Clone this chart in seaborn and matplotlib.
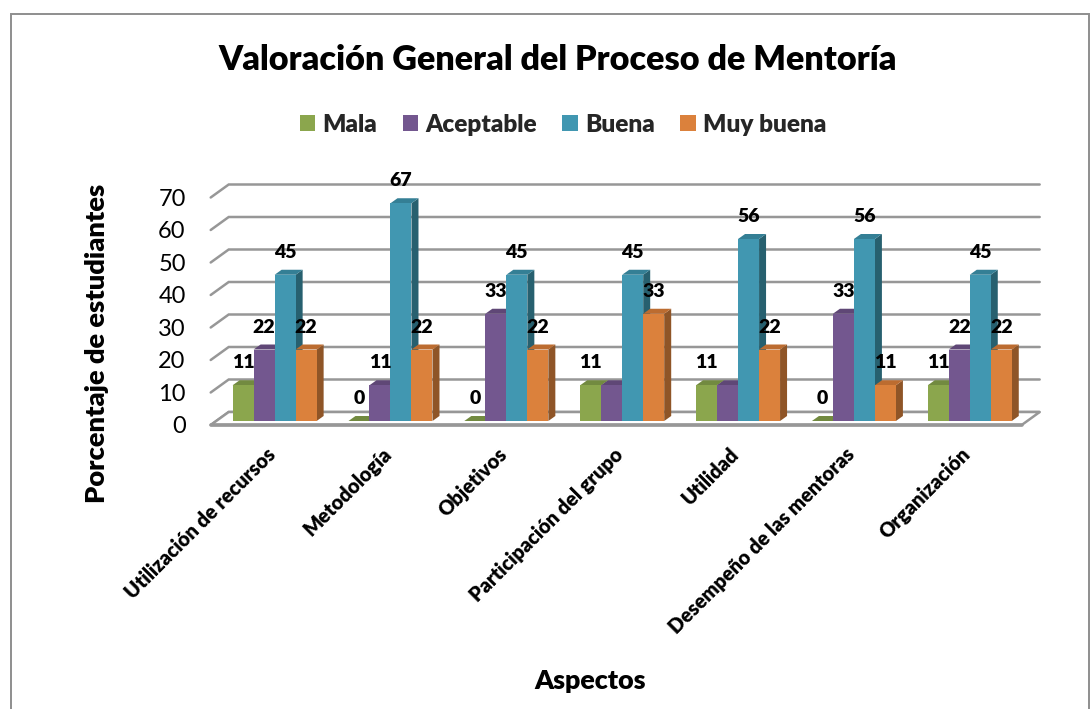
import numpy as np
import pandas as pd
import matplotlib
matplotlib.use("Agg")
import matplotlib.pyplot as plt
from matplotlib.patches import Polygon, Rectangle
from matplotlib.transforms import ScaledTranslation
import seaborn as sns

aspectos = ["Utilización de recursos", "Metodología", "Objetivos", "Participación del grupo",
            "Utilidad", "Desempeño de las mentoras", "Organización"]
mala = [11, 0, 0, 11, 11, 0, 11]
aceptable = [22, 11, 33, 11, 11, 33, 22]
buena = [45, 67, 45, 45, 56, 56, 45]
muy_buena = [22, 22, 22, 33, 22, 11, 22]
y_ticks = [0, 10, 20, 30, 40, 50, 60, 70]

# the purple 11 of two groups has no printed label in the chart
mala_labels = ["11", "0", "0", "11", "11", "0", "11"]
aceptable_labels = ["22", "11", "33", "", "", "33", "22"]
buena_labels = ["45", "67", "45", "45", "56", "56", "45"]
muy_buena_labels = ["22", "22", "22", "33", "22", "11", "22"]

series = ["Mala", "Aceptable", "Buena", "Muy buena"]
colors = ["#8BA64D", "#73578F", "#4197B1", "#DB813C"]
side_colors = ["#67793A", "#543F69", "#27606F", "#8F5527"]
top_colors = ["#728A40", "#5F4776", "#347F95", "#BC6C30"]

W, H = 1090, 709
GRID = "#979797"
HEAVY = 800

df = pd.DataFrame({"Aspecto": aspectos, "Mala": mala, "Aceptable": aceptable,
                   "Buena": buena, "Muy buena": muy_buena})
df = df.melt(id_vars="Aspecto", var_name="Serie", value_name="Valor")

sns.set_theme(style="white")
plt.rcParams["font.family"] = ["Lato", "DejaVu Sans"]


def axes_box(left, right, top, bottom):
    # pixel box (from the top left corner) to figure fractions
    return [left / W, 1 - bottom / H, (right - left) / W, (bottom - top) / H]


fig = plt.figure(figsize=(W / 100, H / 100), dpi=100)
fig.add_artist(Rectangle((10.5 / W, -0.1), (1088.5 - 10.5) / W, 1.1 - 13.5 / H, transform=fig.transFigure,
                         fill=False, edgecolor="#8E8E8E", linewidth=1.4))

# front plane of the floor: ticks and labels live here
px_unit = 3.25
floor = fig.add_axes(axes_box(210.7, 1021.7, 425 - 70 * px_unit, 425))
floor.set_xlim(-0.5, 6.5)
floor.set_ylim(0, 70)
sns.despine(ax=floor, left=True, bottom=True, top=True, right=True)
floor.patch.set_visible(False)

# depth of the floor, in data units
depth_x = 18 / (811 / 7)
depth_y = 13 / px_unit
x0, x1 = -0.5, 6.5
for v in y_ticks:
    floor.plot([x0, x0 + depth_x, x1 + depth_x], [v, v + depth_y, v + depth_y], color=GRID,
               lw=1.8, clip_on=False, zorder=1, solid_joinstyle="miter")
floor.add_patch(Polygon([(x0, 0), (x1, 0), (x1 + depth_x, depth_y), (x0 + depth_x, depth_y)], closed=True,
                        facecolor="white", edgecolor=GRID, lw=1.8, clip_on=False, zorder=1.5))
floor.plot([x0, x1], [0, 0], color=GRID, lw=2.6, clip_on=False, zorder=2)

floor.set_yticks(y_ticks)
floor.set_yticklabels([str(v) for v in y_ticks], fontsize=17, color="black")
floor.tick_params(axis="y", length=0, pad=18)
floor.set_xticks(range(len(aspectos)))
floor.set_xticklabels(aspectos, rotation=45, ha="right", rotation_mode="anchor",
                      fontsize=14.4, fontweight=HEAVY, color="black")
floor.tick_params(axis="x", length=0, pad=14)
shift = ScaledTranslation(-3 / 100, 0, fig.dpi_scale_trans)
for lab in floor.get_xticklabels():
    lab.set_transform(lab.get_transform() + shift)

# bars sit a little behind the front of the floor
ax = fig.add_axes(axes_box(216.7, 1027.7, 421 - 70 * px_unit, 421))
ax.patch.set_visible(False)
sns.barplot(data=df, x="Aspecto", y="Valor", hue="Serie", order=aspectos, hue_order=series,
            palette=colors, saturation=1, width=0.725, gap=0, dodge=True, legend=False, ax=ax)
ax.set_xlim(-0.5, 6.5)
ax.set_ylim(0, 70)
ax.axis("off")

bar_dx = 7 / (811 / 7)
bar_dy = 5 / px_unit
bar_labels = [mala_labels, aceptable_labels, buena_labels, muy_buena_labels]
for i, cont in enumerate(ax.containers):
    for j, bar in enumerate(cont):
        z = 3 + 0.2 * i
        l, r = bar.get_x(), bar.get_x() + bar.get_width()
        h = bar.get_height()
        bar.set_zorder(z + 0.1)
        bar.set_edgecolor("none")
        ax.add_patch(Polygon([(r, 0), (r + bar_dx, bar_dy), (r + bar_dx, h + bar_dy), (r, h)], closed=True,
                             facecolor=side_colors[i], edgecolor="none", clip_on=False, zorder=z))
        ax.add_patch(Polygon([(l, h), (l + bar_dx, h + bar_dy), (r + bar_dx, h + bar_dy), (r, h)], closed=True,
                             facecolor=top_colors[i], edgecolor="none", clip_on=False, zorder=z))
    texts = ax.bar_label(cont, labels=bar_labels[i], padding=10, fontsize=14, fontweight=HEAVY, color="black")
    for t in texts:
        t.set_zorder(20)
        t.set_clip_on(False)

handles = [Rectangle((0, 0), 1, 1, facecolor=c, edgecolor="none") for c in colors]
fig.legend(handles, series, loc="center", bbox_to_anchor=(563 / W, 1 - 125 / H), ncols=4, frameon=False,
           prop={"size": 17.6, "weight": HEAVY}, handlelength=0.62, handleheight=0.62,
           handletextpad=0.3, columnspacing=1.05)

fig.suptitle("Valoración General del Proceso de Mentoría", x=558 / W, y=1 - 60 / H, va="center",
             fontsize=24.6, fontweight=HEAVY, color="black")
fig.supylabel("Porcentaje de estudiantes", x=97 / W, y=1 - 343 / H, ha="center", va="center",
              fontsize=19.6, fontweight=HEAVY, color="black")
fig.supxlabel("Aspectos", x=590 / W, y=1 - 681 / H, ha="center", va="center",
              fontsize=19.4, fontweight=HEAVY, color="black")

fig.savefig("out.png", dpi=100, facecolor="white")
